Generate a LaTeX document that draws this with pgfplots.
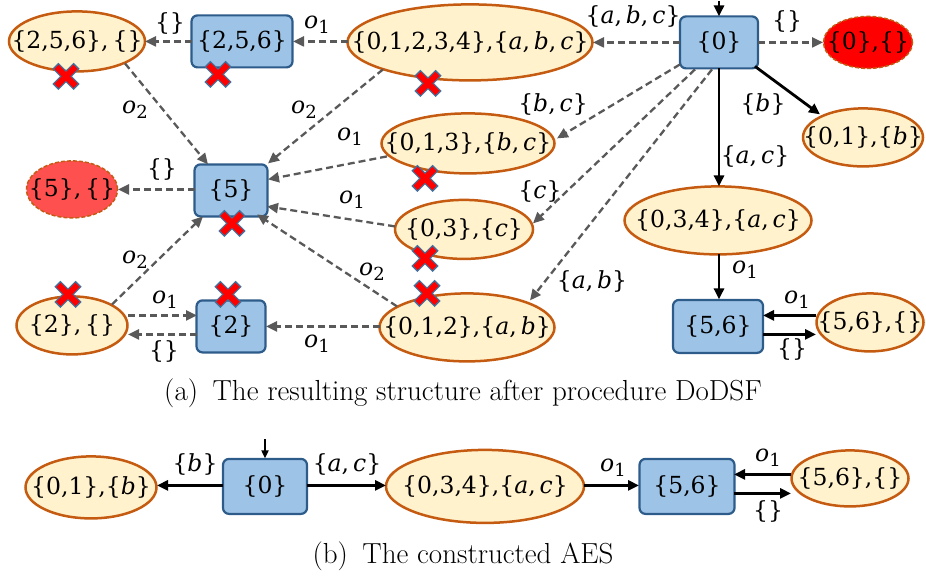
\documentclass[border=0pt]{standalone}
\usepackage{pgfplots}
\pgfplotsset{compat=1.18}
\usepackage{fontspec}
\usetikzlibrary{shapes.geometric,arrows.meta}
\newfontfamily\nf{DejaVu Serif}
\definecolor{boxfill}{HTML}{9DC3E6}
\definecolor{boxborder}{HTML}{2E5C8A}
\definecolor{ellfill}{HTML}{FFF2CC}
\definecolor{ellborder}{HTML}{C55A11}
\definecolor{arrgray}{HTML}{595959}
\definecolor{redA}{HTML}{FF0000}
\definecolor{redB}{HTML}{FF5050}
\definecolor{xblue}{HTML}{41719C}
\newcommand{\nfont}{\nf\fontsize{23.5}{26}\selectfont}
\newcommand{\ii}[1]{\textit{#1}}
\newcommand{\oo}[1]{\textit{o}\raisebox{-0.4ex}{\fontsize{18}{18}\selectfont #1}}
\newcommand{\E}{\{\}}
\begin{document}
\begin{tikzpicture}[
  bx/.style={draw=boxborder, fill=boxfill, rounded corners=6pt, line width=2.2pt, inner sep=0pt, font=\nfont},
  el/.style={ellipse, draw=ellborder, fill=ellfill, line width=2.5pt, inner sep=0pt},
  rel/.style={ellipse, draw=ellborder, dashed, dash pattern=on 4pt off 2pt, line width=1.5pt, inner sep=0pt},
  tx/.style={font=\nfont, inner sep=0pt},
  lb/.style={font=\nfont, inner sep=0pt},
  ]
\begin{axis}[
  x=1pt, y=1pt, y dir=reverse,
  xmin=0, xmax=926, ymin=0, ymax=579,
  hide axis, clip=false, scale only axis,
  dasharr/.style={-{Triangle[length=11pt,width=10pt]}, draw=arrgray, line width=2.3pt, dash pattern=on 7pt off 4pt},
  solarr/.style={-{Triangle[length=11pt,width=10pt]}, draw=black, line width=2.8pt},
  ]
\addplot[draw=none] coordinates {(0,0) (926,579)};
% ---------- nodes (a) ----------
\node[bx, minimum width=78pt, minimum height=52pt] at (axis cs:719,41) {\{0\}};
\node[rel, fill=redA, minimum width=89pt, minimum height=52pt] at (axis cs:868,41) {};
\node[tx] at (axis cs:868,41) {\{0\},\E};
\node[el, minimum width=245pt, minimum height=76pt] at (axis cs:470,41) {};
\node[tx] at (axis cs:470,41) {\{0,1,2,3,4\},\{\ii{a},\,\ii{b},\,\ii{c}\}};
\node[bx, minimum width=101pt, minimum height=52pt] at (axis cs:242,40) {\{2,5,6\}};
\node[el, minimum width=136pt, minimum height=60pt] at (axis cs:77,40) {};
\node[tx] at (axis cs:77,40) {\{2,5,6\},\,\E};
\node[bx, minimum width=73pt, minimum height=52pt] at (axis cs:231,189) {\{5\}};
\node[rel, fill=redB, minimum width=91pt, minimum height=57pt] at (axis cs:72,188) {};
\node[tx] at (axis cs:72,188) {\{5\},\,\E};
\node[el, minimum width=173pt, minimum height=60pt] at (axis cs:468,142) {};
\node[tx] at (axis cs:468,142) {\{0,1,3\},\{\ii{b},\,\ii{c}\}};
\node[el, minimum width=138pt, minimum height=59pt] at (axis cs:464,228) {};
\node[tx] at (axis cs:464,228) {\{0,3\},\{\ii{c}\}};
\node[el, minimum width=175pt, minimum height=68pt] at (axis cs:467,326) {};
\node[tx] at (axis cs:467,326) {\{0,1,2\},\{\ii{a},\,\ii{b}\}};
\node[bx, minimum width=69pt, minimum height=52pt] at (axis cs:231,325) {\{2\}};
\node[el, minimum width=111pt, minimum height=58pt] at (axis cs:72,324) {};
\node[tx] at (axis cs:72,324) {\{2\},\,\E};
\node[el, minimum width=120pt, minimum height=58pt] at (axis cs:863,136) {};
\node[tx] at (axis cs:863,136) {\{0,1\},\{\ii{b}\}};
\node[el, minimum width=187pt, minimum height=68pt] at (axis cs:718,219) {};
\node[tx] at (axis cs:718,219) {\{0,3,4\},\{\ii{a},\,\ii{c}\}};
\node[bx, minimum width=90pt, minimum height=53pt] at (axis cs:718,325) {\{5,6\}};
\node[el, minimum width=107pt, minimum height=58pt] at (axis cs:870,321) {};
\node[tx] at (axis cs:870,321) {\{5,6\},\E};
% ---------- nodes (b) ----------
\node[bx, minimum width=84pt, minimum height=55pt] at (axis cs:265,485) {\{0\}};
\node[el, minimum width=131pt, minimum height=62pt] at (axis cs:91,486) {};
\node[tx] at (axis cs:91,486) {\{0,1\},\{\ii{b}\}};
\node[el, minimum width=198pt, minimum height=73pt] at (axis cs:485,485) {};
\node[tx] at (axis cs:485,485) {\{0,3,4\},\{\ii{a},\,\ii{c}\}};
\node[bx, minimum width=95pt, minimum height=55pt] at (axis cs:687,485) {\{5,6\}};
\node[el, minimum width=117pt, minimum height=56pt] at (axis cs:850,477) {};
\node[tx] at (axis cs:850,477) {\{5,6\},\E};
% ---------- arrows (a) ----------
\addplot[solarr] coordinates {(719,0) (719,15)};
\addplot[dasharr] coordinates {(758,41) (823,41)};
\addplot[dasharr] coordinates {(680,41) (593,41)};
\addplot[dasharr] coordinates {(348,40) (293,40)};
\addplot[dasharr] coordinates {(192,40) (145,40)};
\addplot[dasharr] coordinates {(680,63) (557,137)};
\addplot[dasharr] coordinates {(695,68) (533,222)};
\addplot[dasharr] coordinates {(712,68) (530,299)};
\addplot[solarr] coordinates {(755,65) (820,113)};
\addplot[solarr] coordinates {(719,67) (719,185)};
\addplot[solarr] coordinates {(719,253) (719,298)};
\addplot[solarr] coordinates {(816,314) (763,314)};
\addplot[solarr] coordinates {(763,333) (816,333)};
\addplot[dasharr] coordinates {(125,62) (208,163)};
\addplot[dasharr] coordinates {(383,68) (268,162)};
\addplot[dasharr] coordinates {(387,155) (268,178)};
\addplot[dasharr] coordinates {(195,188) (118,188)};
\addplot[dasharr] coordinates {(395,225) (267,205)};
\addplot[dasharr] coordinates {(397,305) (257,213)};
\addplot[dasharr] coordinates {(380,325) (266,325)};
\addplot[dasharr] coordinates {(112,303) (203,215)};
\addplot[dasharr] coordinates {(128,314) (197,314)};
\addplot[dasharr] coordinates {(197,333) (128,333)};
% ---------- arrows (b) ----------
\addplot[-{Triangle[length=8pt,width=7pt]}, draw=black, line width=1.8pt] coordinates {(265,438) (265,457)};
\addplot[solarr] coordinates {(223,484) (157,484)};
\addplot[solarr] coordinates {(307,484) (386,484)};
\addplot[solarr] coordinates {(584,484) (639,484)};
\addplot[solarr] coordinates {(791,473) (734,473)};
\addplot[solarr] coordinates {(734,492) (791,492)};
% ---------- edge labels (a) ----------
\node[lb] at (axis cs:787,20) {\E};
\node[lb] at (axis cs:633,15) {\{\ii{a},\,\ii{b},\,\ii{c}\}};
\node[lb] at (axis cs:317,23) {\oo{1}};
\node[lb] at (axis cs:170,22) {\E};
\node[lb] at (axis cs:135,108) {\oo{2}};
\node[lb] at (axis cs:304,108) {\oo{2}};
\node[lb] at (axis cs:350,135) {\oo{1}};
\node[lb] at (axis cs:162,168) {\E};
\node[lb] at (axis cs:553,103) {\{\ii{b},\,\ii{c}\}};
\node[lb] at (axis cs:763,103) {\{\ii{b}\}};
\node[lb] at (axis cs:755,155) {\{\ii{a},\,\ii{c}\}};
\node[lb] at (axis cs:540,190) {\{\ii{c}\}};
\node[lb] at (axis cs:352,198) {\oo{1}};
\node[lb] at (axis cs:135,258) {\oo{2}};
\node[lb] at (axis cs:372,270) {\oo{2}};
\node[lb] at (axis cs:165,298) {\oo{1}};
\node[lb] at (axis cs:164,350) {\E};
\node[lb] at (axis cs:317,342) {\oo{1}};
\node[lb] at (axis cs:592,280) {\{\ii{a},\,\ii{b}\}};
\node[lb] at (axis cs:745,268) {\oo{1}};
\node[lb] at (axis cs:797,298) {\oo{1}};
\node[lb] at (axis cs:792,348) {\E};
% ---------- edge labels (b) ----------
\node[lb] at (axis cs:195,463) {\{\ii{b}\}};
\node[lb] at (axis cs:347,463) {\{\ii{a},\,\ii{c}\}};
\node[lb] at (axis cs:613,466) {\oo{1}};
\node[lb] at (axis cs:768,456) {\oo{1}};
\node[lb] at (axis cs:768,510) {\E};
% ---------- crosses ----------
\addplot[only marks, mark=x, mark size=15pt, mark options={line width=8.5pt, draw=xblue}] coordinates {
  (66,75) (218,73) (428,82) (425,177) (232,222) (425,257) (427,292) (68,293) (228,293)};
\addplot[only marks, mark=x, mark size=13.5pt, mark options={line width=6pt, draw=redA}] coordinates {
  (66,75) (218,73) (428,82) (425,177) (232,222) (425,257) (427,292) (68,293) (228,293)};
% ---------- captions ----------
\node[inner sep=0pt, font=\fontsize{29}{33}\selectfont] at (axis cs:463,392) {(a)\enspace The resulting structure after procedure DoDSF};
\node[inner sep=0pt, font=\fontsize{29}{33}\selectfont] at (axis cs:463,555) {(b)\enspace The constructed AES};
\end{axis}
\end{tikzpicture}
\end{document}
